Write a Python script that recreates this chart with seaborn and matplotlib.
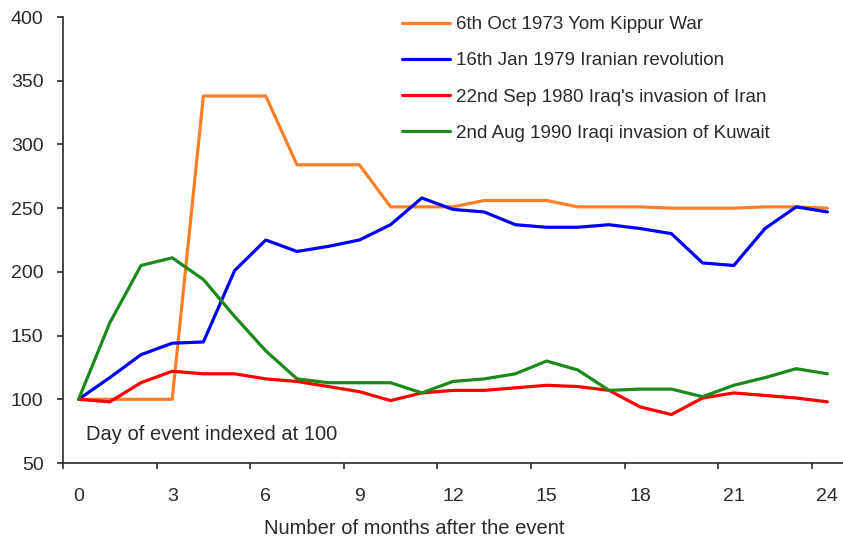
import pandas as pd
import matplotlib.pyplot as plt
from matplotlib.ticker import FixedLocator
import seaborn as sns

# Oil price index around geopolitical events (day of event = 100)
months = list(range(25))

yom_kippur = [100, 100, 100, 100, 338, 338, 338, 284, 284, 284, 251, 251, 251,
              256, 256, 256, 251, 251, 251, 250, 250, 250, 251, 251, 250]
iran_rev = [100, 117, 135, 144, 145, 201, 225, 216, 220, 225, 237, 258, 249,
            247, 237, 235, 235, 237, 234, 230, 207, 205, 234, 251, 247]
iraq_iran = [100, 98, 113, 122, 120, 120, 116, 114, 110, 106, 99, 105, 107,
             107, 109, 111, 110, 107, 94, 88, 101, 105, 103, 101, 98]
kuwait = [100, 160, 205, 211, 194, 165, 138, 116, 113, 113, 113, 105, 114,
          116, 120, 130, 123, 107, 108, 108, 102, 111, 117, 124, 120]

labels = ['6th Oct 1973 Yom Kippur War',
          '16th Jan 1979 Iranian revolution',
          "22nd Sep 1980 Iraq's invasion of Iran",
          '2nd Aug 1990 Iraqi invasion of Kuwait']
colors = ['#FF7F27', '#0000FF', '#FF0000', '#1A8A1A']

df = pd.DataFrame({'Month': months * 4,
                   'Index': yom_kippur + iran_rev + iraq_iran + kuwait,
                   'Event': [l for l in labels for _ in months]})

sns.set_style("ticks")
plt.rcParams['font.family'] = ['Liberation Sans', 'DejaVu Sans']
text_col = '#2a2a2a'

fig = plt.figure(figsize=(8.43, 5.41), dpi=100)
ax = fig.add_axes([63 / 843, 78 / 541, 780 / 843, 446 / 541])

sns.lineplot(data=df, x='Month', y='Index', hue='Event', hue_order=labels,
             palette=colors, linewidth=2.3, ax=ax)

ax.set_xlim(-0.5, 24.5)
ax.set_ylim(50, 400)
ax.set_yticks(range(50, 401, 50))
ax.set_xticks(range(0, 25, 3))
ax.xaxis.set_minor_locator(FixedLocator([x - 0.5 for x in range(0, 25, 3)]))
ax.tick_params(axis='x', which='major', length=0, pad=18, labelsize=14, labelcolor=text_col)
ax.tick_params(axis='x', which='minor', length=4, width=1.2, color=text_col, direction='out')
ax.tick_params(axis='y', length=4, width=1.2, color=text_col, pad=10,
               labelsize=14, labelcolor=text_col)

sns.despine(ax=ax)
for s in ['left', 'bottom']:
    ax.spines[s].set_color(text_col)
    ax.spines[s].set_linewidth(1.2)

ax.set_xlabel('Number of months after the event', fontsize=14.5, color=text_col)
ax.xaxis.set_label_coords(0.4506, -0.125)
ax.set_ylabel('')

ax.text(0.25, 72, 'Day of event indexed at 100', fontsize=14.5, color=text_col, va='center')

leg = ax.legend(loc='upper left', bbox_to_anchor=(0.4126, 1.040), frameon=False,
                fontsize=13.5, handlelength=2.6, handletextpad=0.3, labelspacing=1.02)
for t in leg.get_texts():
    t.set_color(text_col)

plt.savefig('out.png', dpi=100)
